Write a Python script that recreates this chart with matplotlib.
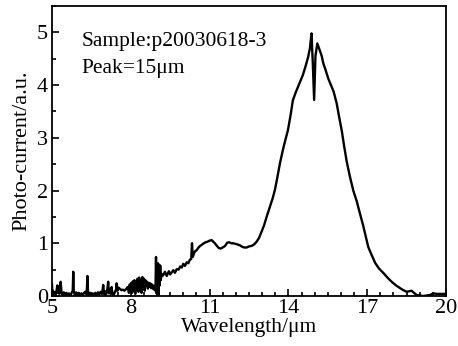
import matplotlib
matplotlib.use("Agg")
import matplotlib.pyplot as plt
from matplotlib.ticker import MultipleLocator

plt.rcParams['font.family'] = ['Liberation Serif', 'DejaVu Serif']

# noisy low-wavelength part (5 - 7.5 um)
x_seg1 = [5.00, 5.02, 5.04, 5.06, 5.10, 5.14, 5.18, 5.20, 5.22, 5.25, 5.28, 5.31, 5.33, 5.36,
          5.40, 5.45, 5.50, 5.55, 5.60, 5.65, 5.70, 5.75, 5.79, 5.81, 5.83, 5.87, 5.92, 5.97,
          6.02, 6.07, 6.12, 6.17, 6.22, 6.27, 6.32, 6.35, 6.37, 6.40, 6.45, 6.50, 6.55, 6.60,
          6.65, 6.70, 6.75, 6.80, 6.85, 6.90, 6.93, 6.95, 6.98, 7.02, 7.06, 7.10, 7.14, 7.17,
          7.20, 7.24, 7.27, 7.30, 7.35, 7.40, 7.44, 7.46, 7.49]
y_seg1 = [0.22, 0.02, 0.10, 0.03, 0.07, 0.02, 0.12, 0.20, 0.06, 0.18, 0.04, 0.22, 0.27, 0.08,
          0.02, 0.07, 0.01, 0.06, 0.02, 0.05, 0.01, 0.06, 0.10, 0.46, 0.08, 0.02, 0.07, 0.01,
          0.06, 0.02, 0.05, 0.01, 0.06, 0.08, 0.03, 0.38, 0.10, 0.02, 0.06, 0.01, 0.05, 0.02,
          0.06, 0.02, 0.07, 0.03, 0.08, 0.04, 0.12, 0.21, 0.04, 0.09, 0.03, 0.10, 0.27, 0.05,
          0.12, 0.04, 0.17, 0.05, 0.02, 0.08, 0.12, 0.24, 0.10]

# 7.5 - 9.2 um
x_seg2 = [7.52, 7.58, 7.64, 7.70, 7.76, 7.82, 7.88, 7.93, 7.96, 7.99, 8.02, 8.05, 8.08, 8.11,
          8.14, 8.17, 8.20, 8.23, 8.26, 8.29, 8.32, 8.35, 8.38, 8.41, 8.44, 8.47, 8.50, 8.53,
          8.56, 8.59, 8.62, 8.65, 8.68, 8.71, 8.74, 8.77, 8.80, 8.83, 8.86, 8.89, 8.92, 8.94,
          8.96, 8.98, 9.00, 9.02, 9.04, 9.06, 9.08, 9.10, 9.12, 9.14, 9.17, 9.20]
y_seg2 = [0.16, 0.14, 0.11, 0.12, 0.10, 0.13, 0.17, 0.06, 0.22, 0.08, 0.25, 0.06, 0.28, 0.10,
          0.30, 0.04, 0.26, 0.12, 0.33, 0.08, 0.35, 0.15, 0.30, 0.06, 0.36, 0.18, 0.33, 0.10,
          0.30, 0.20, 0.27, 0.14, 0.25, 0.18, 0.24, 0.15, 0.22, 0.14, 0.20, 0.12, 0.18, 0.10,
          0.74, 0.05, 0.55, 0.00, 0.62, 0.02, 0.45, 0.20, 0.58, 0.30, 0.42, 0.38]

# 9.2 - 20 um, main response band
x_seg3 = [9.24, 9.30, 9.37, 9.45, 9.50, 9.56, 9.62, 9.68, 9.75, 9.82, 9.88, 9.94, 10.00, 10.06,
          10.13, 10.19, 10.25, 10.30, 10.33, 10.36, 10.40, 10.45, 10.51, 10.58, 10.64, 10.70,
          10.78, 10.85, 10.92, 11.00, 11.08, 11.14, 11.20, 11.28, 11.35, 11.42, 11.50, 11.59,
          11.67, 11.75, 11.82, 11.90, 11.97, 12.05, 12.16, 12.25, 12.33, 12.41, 12.50, 12.60,
          12.70, 12.79, 12.88, 12.98, 13.08, 13.17, 13.30, 13.40, 13.49, 13.58, 13.68, 13.79,
          13.88, 13.98, 14.08, 14.17, 14.27, 14.36, 14.45, 14.55, 14.65, 14.75, 14.82, 14.88,
          14.93, 14.98, 15.03, 15.10, 15.18, 15.27, 15.33, 15.42, 15.52, 15.62, 15.72, 15.84,
          15.93, 16.03, 16.12, 16.22, 16.34, 16.47, 16.60, 16.72, 16.85, 16.95, 17.04, 17.15,
          17.30, 17.45, 17.61, 17.77, 17.93, 18.10, 18.25, 18.38, 18.50, 18.60, 18.69, 18.78,
          18.88, 19.00, 19.15, 19.26, 19.40, 19.51, 19.65, 19.80, 19.95]
y_seg3 = [0.40, 0.46, 0.38, 0.47, 0.41, 0.45, 0.49, 0.44, 0.51, 0.50, 0.56, 0.54, 0.61, 0.57,
          0.64, 0.62, 0.69, 0.70, 1.00, 0.74, 0.80, 0.85, 0.87, 0.92, 0.95, 0.97,
          1.00, 1.02, 1.03, 1.05, 1.06, 1.03, 1.00, 0.95, 0.91, 0.90, 0.92, 0.95,
          1.01, 1.02, 1.00, 1.00, 0.99, 0.98, 0.96, 0.93, 0.92, 0.92, 0.94, 0.95,
          0.98, 1.03, 1.10, 1.22, 1.35, 1.50, 1.70, 1.85, 2.02, 2.25, 2.52, 2.77,
          2.95, 3.14, 3.42, 3.71, 3.85, 3.96, 4.07, 4.19, 4.35, 4.53, 4.70, 4.98,
          4.40, 3.72, 4.55, 4.79, 4.68, 4.55, 4.41, 4.28, 4.12, 4.00, 3.88, 3.65,
          3.40, 3.14, 2.85, 2.55, 2.27, 2.00, 1.80, 1.57, 1.33, 1.12, 0.93, 0.80,
          0.63, 0.52, 0.44, 0.35, 0.27, 0.20, 0.15, 0.11, 0.08, 0.09, 0.10, 0.06,
          0.02, 0.01, 0.00, 0.01, 0.02, 0.05, 0.04, 0.04, 0.04]

wavelength = x_seg1 + x_seg2 + x_seg3
current = y_seg1 + y_seg2 + y_seg3

fig = plt.figure(figsize=(4.58, 3.46), dpi=100)
ax = fig.add_axes([0.1135, 0.1445, 0.8603, 0.8382])

ax.plot(wavelength, current, color='black', lw=1.7)

ax.set_xlim(5, 20)
ax.set_ylim(0, 5.5)
ax.set_xticks([5, 8, 11, 14, 17, 20])
ax.set_yticks([0, 1, 2, 3, 4, 5])
ax.xaxis.set_minor_locator(MultipleLocator(0.5))
ax.yaxis.set_minor_locator(MultipleLocator(0.5))
ax.tick_params(which='both', direction='in', top=False, right=False, labelsize=16, width=1.2)
ax.tick_params(which='major', length=5)
ax.tick_params(axis='x', which='major', pad=2)
ax.tick_params(axis='y', which='major', pad=3)
ax.tick_params(which='minor', length=3)
for s in ax.spines.values():
    s.set_linewidth(1.3)

ax.set_xlabel('Wavelength/μm', fontsize=15.5, labelpad=0)
ax.set_ylabel('Photo-current/a.u.', fontsize=16, labelpad=4)

ax.text(0.076, 0.876, 'Sample:p20030618-3', transform=ax.transAxes, fontsize=15.5, va='center')
ax.text(0.076, 0.786, 'Peak=15μm', transform=ax.transAxes, fontsize=15.5, va='center')

fig.savefig('out.png', dpi=100)
